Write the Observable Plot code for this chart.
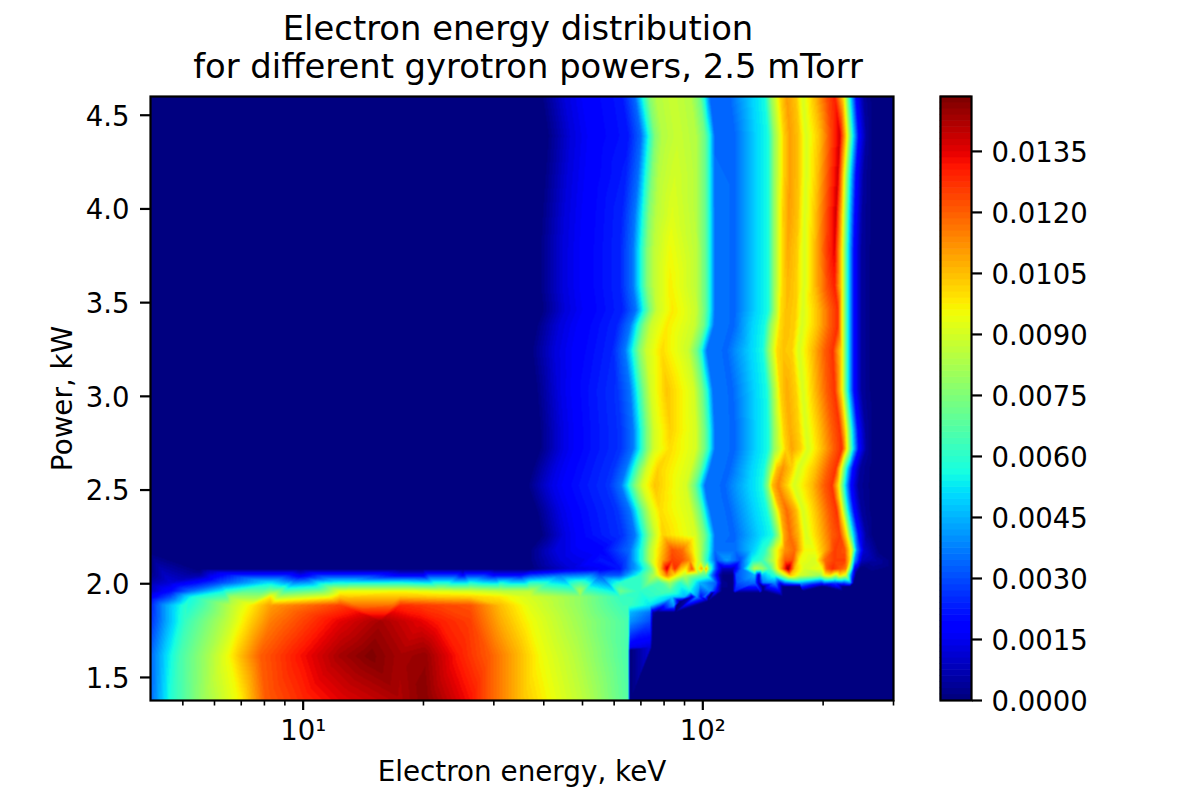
<!DOCTYPE html>
<html>
<head>
<meta charset="utf-8">
<script src="https://cdn.jsdelivr.net/npm/d3@7"></script>
<script src="https://cdn.jsdelivr.net/npm/@observablehq/plot@0.6"></script>
<style>
  body { margin: 0; background: white; }
  #chart { position: relative; width: 1200px; height: 800px; }
  #chart svg { position: absolute; left: 0; top: 0; }
</style>
</head>
<body>
<div id="chart"></div>
<script>
// Power of each scan, kW
const powers = [4.6, 4.39, 4.18, 3.97, 3.78, 3.59, 3.46, 3.38, 3.245, 3.03, 2.82, 2.72, 2.616, 2.525, 2.46, 2.39, 2.26,
  2.18, 2.125, 2.08, 2.045, 2.005, 1.985, 1.96, 1.95, 1.93, 1.905, 1.885, 1.847, 1.8, 1.66, 1.645, 1.617, 1.377]

// log10(energy / keV) of the points
const logEnergies = [
  [.61,1.598,1.653,1.71,1.798,1.83,1.848,1.865,1.883,1.923,1.97,1.993,2.005,2.018,2.068,2.125,2.155,2.17,2.195,2.21,2.233,2.25,2.28,2.31,2.33,2.353,2.368,2.383,2.403,2.43,2.48],
  [.61,1.613,1.668,1.725,1.813,1.845,1.863,1.88,1.898,1.938,1.983,2.005,2.018,2.03,2.08,2.133,2.163,2.178,2.203,2.218,2.24,2.258,2.293,2.323,2.343,2.36,2.375,2.39,2.41,2.43,2.48],
  [.61,1.605,1.66,1.718,1.805,1.838,1.855,1.873,1.89,1.93,1.983,2.005,2.018,2.03,2.08,2.133,2.163,2.178,2.203,2.218,2.24,2.258,2.288,2.318,2.338,2.353,2.368,2.383,2.403,2.43,2.48],
  [.61,1.598,1.653,1.71,1.798,1.83,1.848,1.865,1.883,1.923,1.983,2.005,2.018,2.03,2.08,2.133,2.163,2.178,2.2,2.215,2.238,2.255,2.283,2.313,2.333,2.35,2.365,2.38,2.4,2.43,2.48],
  [.61,1.593,1.648,1.705,1.793,1.825,1.843,1.86,1.878,1.918,1.983,2.005,2.018,2.03,2.08,2.133,2.163,2.178,2.198,2.213,2.235,2.253,2.28,2.31,2.33,2.348,2.363,2.378,2.398,2.43,2.48],
  [.61,1.593,1.648,1.705,1.793,1.825,1.843,1.86,1.878,1.918,1.983,2.005,2.018,2.03,2.08,2.133,2.163,2.178,2.198,2.213,2.235,2.253,2.28,2.31,2.33,2.348,2.363,2.378,2.398,2.43,2.48],
  [.61,1.6,1.655,1.713,1.8,1.833,1.85,1.868,1.885,1.925,1.983,2.005,2.018,2.03,2.08,2.133,2.163,2.178,2.195,2.21,2.233,2.25,2.288,2.318,2.338,2.348,2.363,2.378,2.398,2.43,2.48],
  [.61,1.585,1.64,1.698,1.785,1.818,1.835,1.853,1.87,1.91,1.98,2.003,2.015,2.028,2.078,2.125,2.155,2.17,2.193,2.208,2.23,2.248,2.288,2.318,2.338,2.348,2.363,2.378,2.398,2.43,2.48],
  [.61,1.573,1.628,1.685,1.773,1.805,1.823,1.84,1.858,1.898,1.963,1.985,1.998,2.01,2.06,2.12,2.15,2.165,2.185,2.2,2.223,2.24,2.275,2.305,2.325,2.348,2.363,2.378,2.398,2.43,2.48],
  [.61,1.585,1.64,1.698,1.785,1.818,1.835,1.853,1.87,1.91,1.978,2.0,2.013,2.025,2.075,2.13,2.16,2.175,2.195,2.21,2.233,2.25,2.28,2.31,2.33,2.348,2.363,2.378,2.398,2.43,2.48],
  [.61,1.593,1.648,1.705,1.793,1.825,1.843,1.86,1.878,1.918,1.983,2.005,2.018,2.03,2.08,2.133,2.163,2.178,2.203,2.218,2.24,2.258,2.293,2.323,2.343,2.358,2.373,2.388,2.408,2.43,2.48],
  [.61,1.593,1.648,1.705,1.793,1.825,1.843,1.86,1.878,1.918,1.983,2.005,2.018,2.03,2.08,2.133,2.163,2.178,2.208,2.223,2.245,2.263,2.298,2.328,2.348,2.36,2.375,2.39,2.41,2.43,2.48],
  [.61,1.575,1.63,1.688,1.775,1.808,1.825,1.843,1.86,1.888,1.97,1.993,2.005,2.018,2.068,2.123,2.153,2.168,2.185,2.2,2.223,2.24,2.283,2.313,2.333,2.345,2.36,2.375,2.395,2.43,2.48],
  [.61,1.563,1.618,1.675,1.763,1.795,1.813,1.83,1.848,1.88,1.958,1.98,1.993,2.005,2.055,2.118,2.148,2.163,2.173,2.188,2.21,2.228,2.273,2.303,2.323,2.34,2.355,2.37,2.39,2.43,2.48],
  [.61,1.573,1.628,1.685,1.773,1.805,1.823,1.84,1.858,1.885,1.963,1.985,1.998,2.01,2.06,2.123,2.153,2.168,2.183,2.198,2.22,2.238,2.278,2.308,2.328,2.343,2.358,2.373,2.393,2.43,2.48],
  [.61,1.585,1.64,1.698,1.785,1.818,1.835,1.853,1.87,1.893,1.97,1.993,2.005,2.018,2.068,2.13,2.16,2.175,2.195,2.21,2.233,2.25,2.285,2.315,2.335,2.348,2.363,2.378,2.398,2.43,2.48],
  [.61,1.598,1.653,1.71,1.798,1.83,1.848,1.865,1.883,1.9,1.983,2.005,2.018,2.03,2.08,2.143,2.173,2.188,2.203,2.218,2.24,2.258,2.293,2.323,2.343,2.36,2.375,2.39,2.41,2.43,2.48],
  [.61,1.568,1.63,1.743,1.818,1.848,1.868,1.898,1.923,1.948,1.973,1.993,2.013,2.03,2.08,2.123,2.155,2.18,2.205,2.23,2.255,2.28,2.305,2.33,2.355,2.373,2.385,2.403,2.443,2.48],
  [.61,1.568,1.643,1.743,1.818,1.848,1.868,1.898,1.923,1.948,1.968,1.993,2.013,2.033,2.06,2.093,2.123,2.148,2.18,2.205,2.225,2.243,2.28,2.305,2.33,2.355,2.368,2.38,2.398,2.43,2.48],
  [.61,.743,.993,1.243,1.3,1.4,1.48,1.543,1.568,1.643,1.668,1.743,1.793,1.843,1.868,1.893,1.91,1.92,1.93,1.945,1.958,1.973,1.985,1.998,2.003,2.008,2.018,2.033,2.05,2.075,2.098,2.13,2.148,2.168,2.193,2.213,2.23,2.255,2.298,2.31,2.325,2.343,2.358,2.37,2.38,2.393,2.48],
  [.61,.743,.993,1.243,1.3,1.4,1.48,1.543,1.643,1.743,1.793,1.843,1.88,1.91,1.93,1.955,1.993,2.008,2.023,2.043,2.05,2.075,2.083,2.13,2.14,2.148,2.18,2.218,2.243,2.293,2.305,2.318,2.333,2.343,2.358,2.37,2.383,2.42,2.48],
  [.61,.668,.793,.918,1.093,1.243,1.418,1.493,1.568,1.693,1.793,1.893,1.918,1.943,1.993,2.033,2.048,2.075,2.085,2.13,2.14,2.15,2.18,2.243,2.305,2.33,2.37,2.378,2.42,2.48],
  [2.15,2.2,2.243,2.3,2.35,2.368,2.39,2.43,2.48],
  [.61,.668,.718,.8,.918,1.093,1.243,1.293,1.343,1.418,1.493,1.568,1.693,1.793,1.843,1.918,1.968,2.018,2.033,2.048,2.075,2.08,2.143,2.15,2.25,2.35,2.48],
  [2.023,2.08,2.143],
  [.61,.668,.718,.818,.918,1.093,1.243,1.293,1.343,1.418,1.493,1.568,1.693,1.793,1.868,1.923,1.955,1.973,1.985,1.995,2.005,2.015,2.2,2.48],
  [1.943,2.013],
  [.61,.655,.705,.818,.868,.918,1.093,1.243,1.293,1.343,1.418,1.493,1.568,1.693,1.813,1.868,1.928,1.935,2.2,2.48],
  [1.818,1.868,1.875,1.885,1.93],
  [.61,.655,.705,.818,.868,.918,1.093,1.193,1.293,1.343,1.418,1.493,1.568,1.693,1.813,1.818,1.868,1.875,2.1,2.3,2.48],
  [1.813,1.818,1.868,1.873,2.48],
  [1.813,1.818,2.48],
  [.61,.655,.693,.755,.813,.843,.893,.993,1.093,1.168,1.243,1.305,1.393,1.468,1.53,1.593,1.68,1.813,1.818,2.48],
  [.61,.668,.743,.843,.905,.993,1.093,1.243,1.305,1.418,1.468,1.543,1.618,1.705,1.813,1.818,2.48]
]

// Distribution value at those points
const densities = [
  [0,.0001,.0012,.0018,.0022,.0034,.0055,.0075,.0084,.0088,.0084,.0072,.0055,.0034,.0034,.0050,.0056,.0078,.0102,.0110,.0104,.0090,.0105,.0122,.0130,.0098,.0055,.0020,.0004,0,0],
  [0,.0001,.0012,.0018,.0022,.0034,.0055,.0075,.0084,.0088,.0084,.0072,.0055,.0034,.0034,.0050,.0056,.0078,.0102,.0110,.0104,.0090,.0105,.0125,.0137,.0098,.0055,.0020,.0004,0,0],
  [0,.0001,.0012,.0018,.0023,.0035,.0055,.0075,.0085,.0090,.0085,.0072,.0055,.0035,.0034,.0050,.0056,.0078,.0102,.0110,.0104,.0090,.0105,.0125,.0137,.0098,.0055,.0020,.0004,0,0],
  [0,.0001,.0012,.0018,.0024,.0036,.0055,.0075,.0085,.0092,.0085,.0072,.0055,.0036,.0034,.0050,.0056,.0078,.0102,.0110,.0104,.0090,.0105,.0125,.0137,.0098,.0055,.0020,.0004,0,0],
  [0,.0001,.0012,.0018,.0024,.0036,.0055,.0075,.0086,.0095,.0086,.0072,.0055,.0036,.0034,.0050,.0056,.0078,.0100,.0108,.0103,.0090,.0105,.0125,.0135,.0098,.0055,.0020,.0004,0,0],
  [0,.0001,.0012,.0018,.0024,.0036,.0055,.0075,.0086,.0097,.0086,.0072,.0055,.0036,.0034,.0050,.0056,.0078,.0100,.0106,.0102,.0090,.0105,.0122,.0130,.0098,.0055,.0020,.0004,0,0],
  [0,.0001,.0012,.0018,.0024,.0036,.0055,.0075,.0088,.0098,.0088,.0072,.0055,.0036,.0034,.0050,.0056,.0078,.0100,.0105,.0102,.0090,.0105,.0120,.0128,.0098,.0055,.0020,.0004,0,0],
  [0,.0001,.0012,.0018,.0024,.0036,.0055,.0075,.0088,.0098,.0088,.0072,.0055,.0036,.0034,.0050,.0056,.0078,.0100,.0105,.0102,.0090,.0105,.0120,.0128,.0098,.0055,.0020,.0004,0,0],
  [0,.0001,.0012,.0018,.0024,.0036,.0055,.0075,.0088,.0100,.0088,.0072,.0055,.0036,.0034,.0050,.0056,.0078,.0100,.0104,.0102,.0090,.0105,.0120,.0127,.0098,.0055,.0020,.0004,0,0],
  [0,.0001,.0013,.0020,.0026,.0036,.0055,.0075,.0090,.0104,.0090,.0072,.0055,.0036,.0034,.0050,.0056,.0078,.0102,.0108,.0102,.0090,.0105,.0120,.0127,.0098,.0055,.0020,.0004,0,0],
  [0,.0001,.0013,.0020,.0026,.0036,.0055,.0075,.0090,.0102,.0090,.0072,.0055,.0036,.0034,.0050,.0056,.0078,.0102,.0108,.0102,.0090,.0105,.0120,.0127,.0098,.0055,.0020,.0004,0,0],
  [0,.0001,.0013,.0020,.0026,.0036,.0055,.0075,.0090,.0100,.0090,.0072,.0055,.0036,.0034,.0050,.0056,.0078,.0102,.0109,.0102,.0090,.0105,.0120,.0128,.0098,.0055,.0020,.0004,0,0],
  [0,.0001,.0013,.0020,.0026,.0036,.0055,.0075,.0090,.0102,.0090,.0072,.0055,.0036,.0034,.0050,.0056,.0078,.0104,.0112,.0102,.0090,.0105,.0120,.0127,.0098,.0055,.0020,.0004,0,0],
  [0,.0001,.0013,.0020,.0026,.0036,.0055,.0075,.0090,.0104,.0090,.0072,.0055,.0036,.0034,.0050,.0056,.0078,.0104,.0114,.0102,.0090,.0105,.0120,.0127,.0098,.0055,.0020,.0004,0,0],
  [0,.0001,.0013,.0020,.0026,.0036,.0055,.0075,.0090,.0102,.0090,.0072,.0055,.0036,.0034,.0050,.0056,.0078,.0106,.0115,.0104,.0090,.0105,.0120,.0127,.0098,.0055,.0020,.0004,0,0],
  [0,.0001,.0013,.0020,.0026,.0036,.0055,.0075,.0090,.0100,.0090,.0072,.0055,.0036,.0034,.0050,.0056,.0078,.0108,.0118,.0106,.0090,.0105,.0120,.0127,.0098,.0055,.0020,.0004,0,0],
  [0,.0001,.0013,.0020,.0026,.0036,.0055,.0075,.0090,.0102,.0090,.0072,.0055,.0036,.0034,.0050,.0056,.0078,.0108,.0118,.0106,.0090,.0105,.0120,.0125,.0098,.0055,.0020,.0004,0,0],
  [0,.0001,.0012,.0018,.0035,.0060,.0085,.0105,.0122,.0118,.0100,.0085,.0060,.0035,.0035,.0048,.0060,.0090,.0112,.0118,.0095,.0095,.0108,.0125,.0122,.0090,.0040,.0010,0,0],
  [0,.0001,.0012,.0022,.0035,.0060,.0085,.0108,.0125,.0122,.0112,.0085,.0055,.0030,.0042,.0030,.0055,.0062,.0090,.0120,.0122,.0095,.0090,.0118,.0125,.0125,.0100,.0040,.0008,.0005,0],
  [0,0,0,0,0,0,0,0,0,.0009,.0012,.0016,.0022,.0048,.0070,.0105,.0138,.0112,.0128,.0105,.0098,.0122,.0090,.0110,.0085,.0110,.0065,.0030,.0008,.0008,.0035,.0085,.0080,.0065,.0105,.0146,.0105,.0090,.0095,.0120,.0128,.0122,.0115,.0070,.0015,0,0],
  [.0002,.0006,.0015,.0017,.0017,.0018,.0019,.0020,.0035,.0030,.0032,.0060,.0085,.0115,.0100,.0085,.0070,.0065,.0035,.0005,0,0,.0030,.0045,.0010,.0045,.0060,.0105,.0090,.0080,.0095,.0100,.0085,.0100,.0090,.0040,0,0,0],
  [.0006,.0012,.0030,.0052,.0056,.0057,.0058,.0058,.0060,.0065,.0060,.0065,.0080,.0060,.0045,.0032,.0003,0,.0030,.0035,.0008,.0035,.0040,.0045,.0035,.0030,.0040,0,0,0],
  [0,0,0,0,0,0,0,0,0],
  [.0008,.0020,.0035,.0055,.0075,.0094,.0095,.0094,.0092,.0090,.0086,.0086,.0083,.0072,.0060,.0065,.0055,.0040,.0020,0,0,.0022,.0022,0,0,0,0],
  [0,0,0],
  [.0014,.0030,.0055,.0080,.0098,.0104,.0105,.0104,.0103,.0102,.0098,.0090,.0078,.0062,.0060,.0050,.0045,.0010,.0040,.0020,.0035,0,0,0],
  [0,0],
  [.0020,.0042,.0060,.0085,.0097,.0110,.0125,.0128,.0126,.0124,.0122,.0105,.0092,.0078,.0063,.0052,.0042,0,0,0],
  [.0045,.0035,.0005,0,0],
  [.0022,.0042,.0062,.0088,.0102,.0115,.0135,.0143,.0135,.0130,.0125,.0108,.0095,.0080,.0065,.0040,.0030,0,0,0,0],
  [.0065,.0015,.0012,0,0],
  [.0065,0,0],
  [.0030,.0050,.0065,.0080,.0095,.0105,.0120,.0132,.0143,.0148,.0143,.0145,.0130,.0120,.0108,.0095,.0085,.0065,0,0],
  [.0030,.0058,.0078,.0097,.0120,.0128,.0135,.0142,.0147,.0132,.0120,.0105,.0095,.0085,.0067,0,0]
]

const powerTicks = [1.5, 2, 2.5, 3, 3.5, 4, 4.5]
const energyTicks = [10, 100]
const energyMinorTicks = [5, 6, 7, 8, 9, 20, 30, 40, 50, 60, 70, 80, 90, 200, 300]
const colorbarTicks = [0, .0015, .003, .0045, .006, .0075, .009, .0105, .012, .0135]
const levelStep = .00015
const levelCount = 99

const points = powers.flatMap((power, i) =>
  logEnergies[i].map((e, j) => ({energy: 10 ** e, power, density: densities[i][j]})))

// jet colormap, filled contour levels
const channel = (stops, values) => d3.scaleLinear().domain(stops).range(values).clamp(true)
const red = channel([0, .35, .66, .89, 1], [0, 0, 255, 255, 128])
const green = channel([0, .125, .375, .64, .91, 1], [0, 0, 255, 255, 0, 0])
const blue = channel([0, .11, .34, .65, 1], [128, 255, 255, 0, 0])
const jet = t => `rgb(${Math.round(red(t))},${Math.round(green(t))},${Math.round(blue(t))})`
const levels = d3.range(levelCount).map(i => i * levelStep)
const color = {
  type: "threshold",
  domain: levels.slice(1),
  range: levels.map((d, i) => jet(i / (levelCount - 1)))
}

const font = {fontFamily: "DejaVu Sans", fontSize: "27.8px", background: "transparent", color: "black"}

let chart = Plot.plot({
  width: 1200,
  height: 800,
  marginLeft: 150,
  marginRight: 307,
  marginTop: 96,
  marginBottom: 100,
  style: font,
  color,
  x: {type: "log", domain: [4.15, 300]},
  y: {domain: [1.377, 4.6]},
  marks: [
    Plot.raster(points, {x: "energy", y: "power", fill: "density", interpolate: "barycentric", pixelSize: 1}),
    Plot.frame({stroke: "black", strokeWidth: 2.2}),
    Plot.axisX({ticks: energyTicks, tickFormat: () => "", tickSize: 10, strokeWidth: 2.2, label: "Electron energy, keV", labelAnchor: "center", labelArrow: "none", labelOffset: 80}),
    Plot.axisX({ticks: energyTicks, tickFormat: d => d == 10 ? "10¹" : "10²", tickSize: 0, tickPadding: 17, dy: 3, fontSize: 27.5, label: null}),
    Plot.axisX({ticks: energyMinorTicks, tickFormat: () => "", tickSize: 5.5, strokeWidth: 1.6, label: null}),
    Plot.axisY({ticks: powerTicks, tickFormat: () => "", tickSize: 10, strokeWidth: 2.2, label: "Power, kW", labelAnchor: "center", labelArrow: "none", labelOffset: 98}),
    Plot.axisY({ticks: powerTicks, tickFormat: ".1f", tickSize: 0, tickPadding: 21, dy: 1.5, fontSize: 27.5, label: null}),
    Plot.text(["Electron energy distribution"], {frameAnchor: "top", lineAnchor: "bottom", dx: -4, dy: -57, fontSize: 33.8}),
    Plot.text(["for different gyrotron powers, 2.5 mTorr"], {frameAnchor: "top", lineAnchor: "bottom", dx: 6, dy: -19, fontSize: 33.8})
  ]
})

let colorbar = Plot.plot({
  width: 1200,
  height: 800,
  marginLeft: 940,
  marginRight: 229,
  marginTop: 96,
  marginBottom: 100,
  style: font,
  color,
  x: {domain: [0, 1], axis: null},
  y: {domain: [0, levelCount * levelStep]},
  marks: [
    Plot.rect(levels, {x1: 0, x2: 1, y1: d => d, y2: d => d + levelStep, fill: d => d + levelStep / 2, inset: -0.3}),
    Plot.frame({stroke: "black", strokeWidth: 2.2}),
    Plot.axisY({anchor: "right", ticks: colorbarTicks, tickFormat: () => "", tickSize: 10, strokeWidth: 2.2, label: null}),
    Plot.axisY({anchor: "right", ticks: colorbarTicks, tickFormat: ".4f", tickSize: 0, tickPadding: 20, dy: 2, fontSize: 27.5, label: null})
  ]
})

d3.select("#chart").append(() => chart)
d3.select("#chart").append(() => colorbar)
</script>
</body>
</html>
